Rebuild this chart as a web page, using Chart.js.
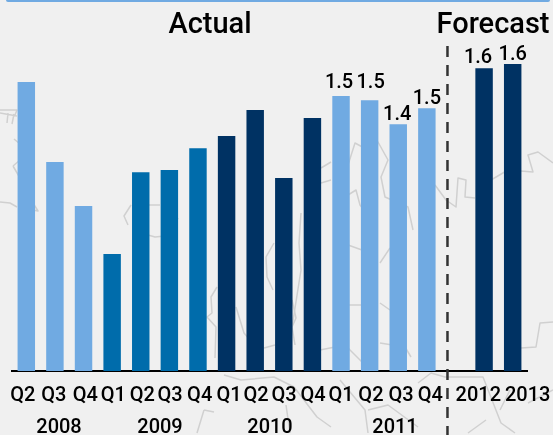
<!DOCTYPE html>
<html>
<head>
<meta charset="utf-8">
<script src="https://cdn.jsdelivr.net/npm/chart.js@4"></script>
<style>
    html, body { margin: 0; padding: 0; background: #f0f0f0; overflow: hidden; }
    #wrap { position: relative; width: 553px; height: 435px; }
    #topRule { position: absolute; left: 6px; right: 3px; top: 0; height: 2px; background: #70aae2; border-radius: 0 0 3px 3px; }
    #map, #chart { position: absolute; left: 0; top: 0; }
</style>
</head>
<body>
<div id="wrap">
    <!-- faint map outline behind the chart -->
    <svg id="map" width="553" height="435" fill="none" stroke="#d0d0d0" stroke-width="1.5" stroke-linejoin="round">
        <path d="M0,110 L17,110 L15,115 M0,113 L17,116 M8,113 L7,123 M14,114 L12,124"/>
        <path d="M14,139 L20,144 M13,166 L20,160 M13,166 L20,178"/>
        <path d="M0,202 L10,203 L17,207 M33,203 L38,211 L33,210"/>
        <path d="M131,205 L124,216 L128,225 M148,205 L160,205 M148,235 L155,237 L165,236 M178,218 L176,222"/>
        <path d="M217,287 L211,297 L212,313 L207,317 L216,327 L215,358"/>
        <path d="M236,307 L244,333 L250,340 M264,348 L275,345"/>
        <path d="M274,243 L266,257 L267,277 L273,290 M292,300 L296,318 L292,327 L295,345"/>
        <path d="M321,168 L331,162 M321,183 L331,180 M301,213 L299,243 L301,270 L292,327"/>
        <path d="M348,165 L355,143 L368,150 L378,142 L388,160 L381,177 L385,197 L408,207 L413,230"/>
        <path d="M348,195 L356,190 L360,205 L368,215 M348,245 L362,250 M348,305 L378,305 M380,263 L390,248 M380,303 L390,310"/>
        <path d="M320,350 L345,345 L365,365 M380,343 L405,347 L411,357"/>
        <path d="M435,185 L446,200 L456,207 L458,178 L466,180 L465,197 L475,198"/>
        <path d="M491,180 L508,170 L533,172 L528,155 L538,152 L553,163"/>
        <path d="M553,322 L540,323 L536,347 L521,348"/>
        <path d="M224,375 L241,380 L274,377 L294,387 L317,417 L331,427 M204,410 L197,433 M204,410 L214,412"/>
        <path d="M286,405 L290,433 M340,380 L365,410 L368,433"/>
        <path d="M368,410 L388,405 L418,427 M418,383 L431,373 L445,377 L483,377 L501,423 L515,433"/>
        <path d="M528,403 L553,390 M468,433 L486,420 M510,390 L500,410"/>
    </svg>
    <div id="topRule"></div>
    <canvas id="chart" width="553" height="435"></canvas>
</div>
<script>
const categories = ["Q2", "Q3", "Q4", "Q1", "Q2", "Q3", "Q4", "Q1", "Q2", "Q3", "Q4", "Q1", "Q2", "Q3", "Q4", "", "2012", "2013"];
const years = ["2008", "2008", "2008", "2009", "2009", "2009", "2009", "2010", "2010", "2010", "2010", "2011", "2011", "2011", "2011", "", "2012", "2013"];
const values = [1.559, 1.349, 1.233, 1.107, 1.322, 1.328, 1.385, 1.417, 1.485, 1.307, 1.464, 1.522, 1.511, 1.448, 1.490, null, 1.595, 1.606];
const yearLabels = ["2008", "2009", "2010", "2011"];
const sectionLabels = ["Actual", "Forecast"];

const LIGHT = "#70aae2", MID = "#006cab", DARK = "#003263";
const yearColors = { "2008": LIGHT, "2009": MID, "2010": DARK, "2011": LIGHT, "2012": DARK, "2013": DARK };

const FONT = "Roboto, sans-serif";
// the source labels sit a little off their bars
const tickNudge = [-3.6, -1.2, 1.8, 1.2, 1.6, 0.6, 1.7, 2.4, 0.8, 0.2, 0.6, 0, 1.3, 2.7, 3.4, 0, -5.8, 15];
const labelGap = { 11: 8, 12: 12, 13: 4, 14: 4, 16: 5, 17: 4 };
const labelNudge = { 11: -2, 12: 1, 13: -1, 14: 0, 16: -6, 17: 0 };

const annotations = {
    id: "annotations",
    beforeDraw(chart) {
        const x = chart.scales.x;
        x.getLabelItems(chart.chartArea).forEach((item, i) => {
            item.options.translation[0] = x.getPixelForTick(i) + tickNudge[i];
        });
    },
    afterDraw(chart) {
        const ctx = chart.ctx, x = chart.scales.x, y = chart.scales.y;
        ctx.save();
        ctx.fillStyle = "#000";
        ctx.textAlign = "center";
        ctx.textBaseline = "alphabetic";

        // values over the last bars
        ctx.font = "500 20px " + FONT;
        Object.keys(labelGap).forEach(k => {
            const i = +k;
            ctx.fillText(values[i].toFixed(1), x.getPixelForValue(i) + labelNudge[i], y.getPixelForValue(values[i]) - labelGap[i]);
        });

        // year row
        ctx.font = "500 20px " + FONT;
        const yearX = [59, 160, 270, 395];
        yearLabels.forEach((t, i) => ctx.fillText(t, yearX[i], 433));

        // Actual / Forecast
        ctx.font = "500 29px " + FONT;
        ctx.fillText(sectionLabels[0], 210, 33);
        ctx.fillText(sectionLabels[1], 493, 33);

        // divider
        ctx.strokeStyle = "#333";
        ctx.lineWidth = 2.5;
        ctx.setLineDash([11, 8]);
        ctx.beginPath();
        ctx.moveTo(x.getPixelForValue(15) - 8, 46);
        ctx.lineTo(x.getPixelForValue(15) - 8, 435);
        ctx.stroke();
        ctx.restore();
    }
};

new Chart(document.getElementById("chart"), {
    type: "bar",
    data: {
        labels: categories,
        datasets: [{
            data: values,
            backgroundColor: years.map(y => yearColors[y] || LIGHT),
            barPercentage: 0.61,
            categoryPercentage: 1
        }]
    },
    options: {
        responsive: false,
        animation: false,
        layout: { padding: { left: 12, right: 26, top: 0, bottom: 0 } },
        plugins: { legend: { display: false }, tooltip: { enabled: false } },
        scales: {
            x: {
                afterFit: s => { s.height = 64; },
                grid: { display: false, drawTicks: false },
                border: { display: true, color: "#000", width: 2 },
                ticks: { autoSkip: false, maxRotation: 0, padding: 13, color: "#000", font: { size: 20, family: FONT, weight: "500" } }
            },
            y: { display: false, min: 0.8, max: 1.774 }
        }
    },
    plugins: [annotations]
});
</script>
</body>
</html>
